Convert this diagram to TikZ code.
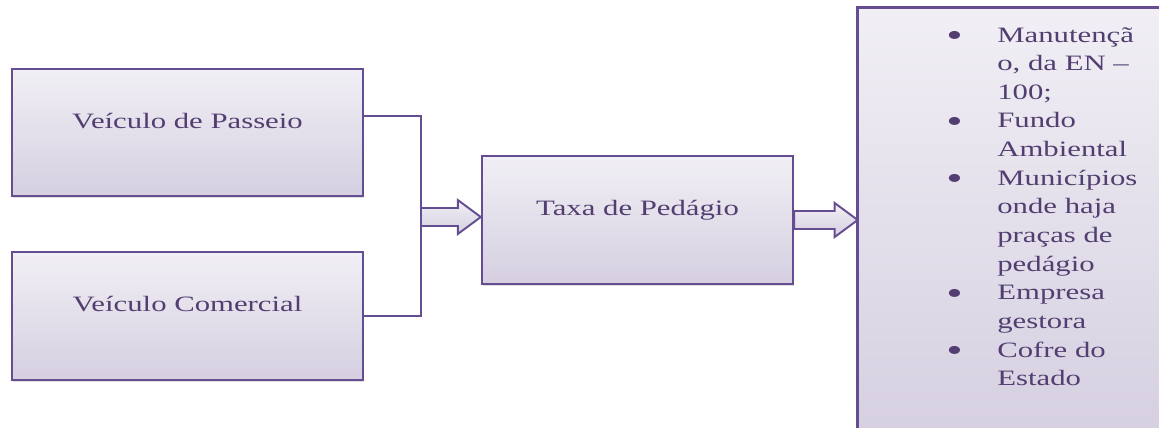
\documentclass[tikz,border=0pt]{standalone}
\usepackage{fontspec}
\setmainfont{Liberation Serif}[FakeStretch=1.4]
\usepackage{tikz}
\usetikzlibrary{calc,shadows}

\definecolor{boxline}{RGB}{100,78,145}
\definecolor{boxtop}{RGB}{241,239,245}
\definecolor{boxbot}{RGB}{213,207,224}
\definecolor{boxtext}{RGB}{82,62,112}

\tikzset{
	box/.style={draw=boxline, line width=1.4pt, top color=boxtop, bottom color=boxbot,
		drop shadow={shadow xshift=0.6pt, shadow yshift=-1.2pt, opacity=0.25},
		text=boxtext, font=\fontsize{12.5}{16.3}\selectfont,
		text height=9pt, text depth=14pt, inner sep=0pt},
	fatarrow/.style={draw=boxline, line width=1.1pt, top color=boxtop, bottom color=boxbot},
	link/.style={draw=boxline, line width=1.2pt}
}
\def\fatarrow(#1)(#2){\path[fatarrow] ($(#1)+(0,-9)$) -- ($(#2)+(-23,-9)$) -- ($(#2)+(-23,-17)$) -- (#2) -- ($(#2)+(-23,17)$) -- ($(#2)+(-23,9)$) -- ($(#1)+(0,9)$) -- cycle;}
\def\bigbullet{\raisebox{-2.5pt}{\fontsize{19}{16}\selectfont\textbullet}}

\begin{document}
\begin{tikzpicture}[x=0.02cm, y=-0.02cm]
	%%%%% START %%%%%
	\useasboundingbox (0, 0) rectangle (1159, 427);
	
	%% the list box runs past the page on the right and below
	\node[top color=boxtop, bottom color=boxbot, inner sep=0pt, minimum width=7.5cm, minimum height=8.64cm] (destino) at (1045.5, 224) {};
	\draw[boxline, line width=1.4pt] (destino.south west) -- (destino.north west) -- (destino.north east);
	
	\node[box, minimum width=7.02cm, minimum height=2.54cm] (passeio) at (187.5, 132.5) {Veículo de Passeio};
	\node[box, minimum width=7.02cm, minimum height=2.56cm] (comercial) at (187.5, 316) {Veículo Comercial};
	\node[box, minimum width=6.22cm, minimum height=2.56cm] (taxa) at (637.5, 220) {Taxa de Pedágio};
	
	%% the two vehicles join
	\coordinate (saida) at ($(passeio.north east)!0.37!(passeio.south east)$);
	\coordinate (juncao) at (421, 217);
	\draw[link] (saida) -| (juncao) |- (comercial.east);
	
	\fatarrow(juncao)(taxa.west |- juncao)
	\fatarrow(taxa.east)(destino.west |- taxa.east)
	
	%% where the money goes
	\node[anchor=base west, inner sep=0pt, text=boxtext, font=\fontsize{12.5}{16.3}\selectfont] (lista) at (946, 42) {%
		\begin{tabular}[t]{@{}p{1.02cm}@{}l@{}}
			\bigbullet & Manutençã\\
			 & o, da EN –\\
			 & 100;\\
			\bigbullet & Fundo\\
			 & Ambiental\\
			\bigbullet & Municípios\\
			 & onde haja\\
			 & praças de\\
			 & pedágio\\
			\bigbullet & Empresa\\
			 & gestora\\
			\bigbullet & Cofre do\\
			 & Estado
		\end{tabular}};
	
	%%%%% END %%%%%
\end{tikzpicture}
\end{document}
